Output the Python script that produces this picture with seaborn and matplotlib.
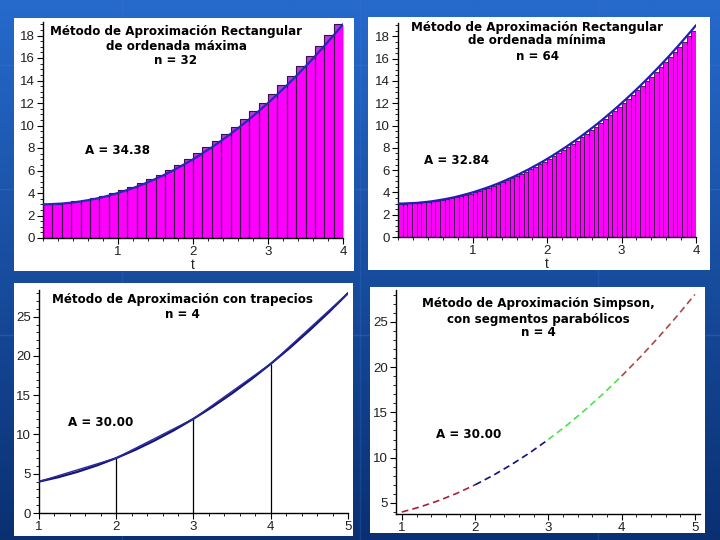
import numpy as np
import matplotlib
matplotlib.use("Agg")
import matplotlib.pyplot as plt
from matplotlib.patches import Rectangle
from matplotlib.ticker import MultipleLocator
import seaborn as sns

# ---------------- data ----------------
# curve f(t) on [0, 4], sampled every 1/16
curve_top_y = [3.00, 3.00, 3.02, 3.04, 3.06, 3.10, 3.14, 3.19, 3.25, 3.32, 3.39, 3.47, 3.56,
               3.66, 3.77, 3.88, 4.00, 4.13, 4.27, 4.41, 4.56, 4.72, 4.89, 5.07, 5.25, 5.44,
               5.64, 5.85, 6.06, 6.29, 6.52, 6.75, 7.00, 7.25, 7.52, 7.79, 8.06, 8.35, 8.64,
               8.94, 9.25, 9.57, 9.89, 10.22, 10.56, 10.91, 11.27, 11.63, 12.00, 12.38, 12.77,
               13.16, 13.56, 13.97, 14.39, 14.82, 15.25, 15.69, 16.14, 16.60, 17.06, 17.54,
               18.02, 18.50, 19.00]
curve_top_t = np.arange(len(curve_top_y)) / 16.0

# rectangles of maximum ordinate, n = 32 (height at right end of each strip)
max_rect_h = curve_top_y[2::2]
# rectangles of minimum ordinate, n = 64 (height at left end of each strip)
min_rect_h = curve_top_y[:-1]

# curve f(t) on [1, 5], sampled every 0.25
curve_bot_y = [4.00, 4.56, 5.25, 6.06, 7.00, 8.06, 9.25, 10.56, 12.00, 13.56, 15.25,
               17.06, 19.00, 21.06, 23.25, 25.56, 28.00]
curve_bot_t = 1 + np.arange(len(curve_bot_y)) * 0.25

trap_nodes_t = [1, 2, 3, 4, 5]
trap_nodes_y = [4.0, 7.0, 12.0, 19.0, 28.0]

simpson_colors = ["#a8203c", "#10107a", "#50e050", "#a84848"]

titles = {
    "p1": ["Método de Aproximación Rectangular", "de ordenada máxima", "n = 32"],
    "p2": ["Método de Aproximación Rectangular", "de ordenada mínima", "n = 64"],
    "p3": ["Método de Aproximación con trapecios", "n = 4"],
    "p4": ["Método de Aproximación Simpson,", "con segmentos parabólicos", "n = 4"],
}
areas = {"p1": "A = 34.38", "p2": "A = 32.84", "p3": "A = 30.00", "p4": "A = 30.00"}

# ---------------- figure ----------------
sns.set_theme(style="ticks")
plt.rcParams["font.family"] = ["DejaVu Sans"]

W, H = 720, 540
fig = plt.figure(figsize=(7.2, 5.4), dpi=100)


def fx(x):
    return x / W


def fy(y):
    return 1 - y / H


# slide background (blue gradient)
bg = fig.add_axes([0, 0, 1, 1], zorder=-10)
top = np.array([0x26, 0x6a, 0xcc]) / 255
bot = np.array([0x0a, 0x30, 0x72]) / 255
g = np.linspace(0, 1, 256)[:, None]
grad = top[None, None, :] * (1 - g[..., None]) + bot[None, None, :] * g[..., None]
grad = np.repeat(grad, 4, axis=1)
bg.imshow(grad, aspect="auto", extent=[0, 1, 0, 1], origin="upper")
for yy in [0.38, 0.65, 0.88]:
    bg.axhline(yy, color="#3a7ad8", lw=1.0, alpha=0.35)
for xx in [0.17, 0.5, 0.83]:
    bg.axvline(xx, color="#3a7ad8", lw=1.0, alpha=0.25)
bg.set_xlim(0, 1)
bg.set_ylim(0, 1)
bg.axis("off")

# white panel boxes (left, top, right, bottom) in pixels
boxes = [(14, 18, 354, 271), (368, 17, 710, 270), (14, 283, 353, 536), (370, 287, 705, 533)]
for l, t, r, b in boxes:
    fig.patches.append(Rectangle((fx(l), fy(b)), (r - l) / W, (b - t) / H,
                                 transform=fig.transFigure, facecolor="white",
                                 edgecolor="none", zorder=-5))


def make_ax(l, t, r, b):
    ax = fig.add_axes([fx(l), fy(b), (r - l) / W, (b - t) / H])
    ax.set_facecolor("none")
    for s in ["top", "right"]:
        ax.spines[s].set_visible(False)
    for s in ["left", "bottom"]:
        ax.spines[s].set_color("black")
        ax.spines[s].set_linewidth(1.0)
    ax.tick_params(which="both", bottom=True, left=True, top=False, right=False)
    ax.tick_params(which="major", direction="out", length=4, width=0.8,
                   labelsize=9, pad=2, colors="black", labelcolor="#202020")
    ax.tick_params(which="minor", direction="out", length=2, width=0.6, colors="black")
    return ax


def tick_font(ax):
    for lab in ax.get_xticklabels() + ax.get_yticklabels():
        lab.set_family("Liberation Sans")
        lab.set_fontsize(9.5)


def put_text(lines, cx, ys, area, ax_x, ay):
    for line, yy in zip(lines, ys):
        fig.text(fx(cx), fy(yy), line, ha="center", va="center", fontsize=8.6,
                 fontweight="bold", color="black")
    fig.text(fx(ax_x), fy(ay), area, ha="left", va="center", fontsize=8.6,
             fontweight="bold", color="black")


# ---- panel 1: maximum ordinate rectangles ----
ax1 = make_ax(43, 22, 343, 238)
step32 = 4 / len(max_rect_h)
left32 = np.arange(len(max_rect_h)) * step32
ax1.bar(left32, max_rect_h, width=step32, align="edge", color="#b43cd8", edgecolor="none", zorder=1)
ax1.fill_between(curve_top_t, 0, curve_top_y, color="#ff00ff", linewidth=0, zorder=2)
ax1.bar(left32, max_rect_h, width=step32, align="edge", facecolor="none",
        edgecolor="#3a1048", linewidth=0.8, zorder=3)
sns.lineplot(x=curve_top_t, y=curve_top_y, ax=ax1, color="#2828b8", lw=1.6, zorder=4)
ax1.set_xlim(0, 4)
ax1.set_ylim(0, 19.2)
ax1.set_xticks([1, 2, 3, 4])
ax1.set_yticks(range(0, 19, 2))
ax1.xaxis.set_minor_locator(MultipleLocator(0.2))
ax1.yaxis.set_minor_locator(MultipleLocator(0.5))
ax1.tick_params(axis="x", which="major", pad=1.5)
ax1.set_xlabel("t", fontsize=10, labelpad=0, family="Liberation Sans")
ax1.set_ylabel("")
tick_font(ax1)
put_text(titles["p1"], 176, [32, 46, 61], areas["p1"], 85, 151)

# ---- panel 2: minimum ordinate rectangles ----
ax2 = make_ax(398, 23, 696, 237)
step64 = 4 / len(min_rect_h)
left64 = np.arange(len(min_rect_h)) * step64
ax2.bar(left64, min_rect_h, width=step64, align="edge", color="#ff00ff",
        edgecolor="#3a1048", linewidth=0.6, zorder=2)
sns.lineplot(x=curve_top_t, y=curve_top_y, ax=ax2, color="#2020b0", lw=1.6, zorder=4)
ax2.set_xlim(0, 4)
ax2.set_ylim(0, 19.2)
ax2.set_xticks([1, 2, 3, 4])
ax2.set_yticks(range(0, 19, 2))
ax2.xaxis.set_minor_locator(MultipleLocator(0.2))
ax2.yaxis.set_minor_locator(MultipleLocator(0.5))
ax2.tick_params(axis="x", which="major", pad=1.5)
ax2.set_xlabel("t", fontsize=10, labelpad=0, family="Liberation Sans")
ax2.set_ylabel("")
tick_font(ax2)
put_text(titles["p2"], 537, [27, 41, 56], areas["p2"], 424, 161)

# ---- panel 3: trapezoids ----
ax3 = make_ax(39, 290, 348, 513)
sns.lineplot(x=curve_bot_t, y=curve_bot_y, ax=ax3, color="#14147a", lw=1.6, zorder=3)
sns.lineplot(x=trap_nodes_t, y=trap_nodes_y, ax=ax3, color="#2a2a9a", lw=1.0, zorder=4)
ax3.vlines(trap_nodes_t[1:-1], 0, trap_nodes_y[1:-1], color="black", lw=0.9, zorder=2)
ax3.set_xlim(1, 5)
ax3.set_ylim(0, 28.4)
ax3.set_xticks([1, 2, 3, 4, 5])
ax3.set_yticks([0, 5, 10, 15, 20, 25])
ax3.xaxis.set_minor_locator(MultipleLocator(0.2))
ax3.yaxis.set_minor_locator(MultipleLocator(1))
ax3.set_xlabel("")
ax3.set_ylabel("")
tick_font(ax3)
put_text(titles["p3"], 182, [300, 314], areas["p3"], 68, 423)

# ---- panel 4: Simpson ----
ax4 = make_ax(396, 290, 700, 514)
for k, col in enumerate(simpson_colors):
    seg = slice(4 * k, 4 * k + 5)
    sns.lineplot(x=curve_bot_t[seg], y=curve_bot_y[seg], ax=ax4, color=col, lw=1.2,
                 linestyle=(0, (4, 2.5)), zorder=3)
ax4.set_xlim(0.92, 5.07)
ax4.set_ylim(3.78, 28.5)
ax4.set_xticks([1, 2, 3, 4, 5])
ax4.set_yticks([5, 10, 15, 20, 25])
ax4.xaxis.set_minor_locator(MultipleLocator(0.2))
ax4.yaxis.set_minor_locator(MultipleLocator(1))
ax4.set_xlabel("")
ax4.set_ylabel("")
tick_font(ax4)
put_text(titles["p4"], 538, [304, 319, 333], areas["p4"], 436, 435)

fig.savefig("out.png", dpi=100)
